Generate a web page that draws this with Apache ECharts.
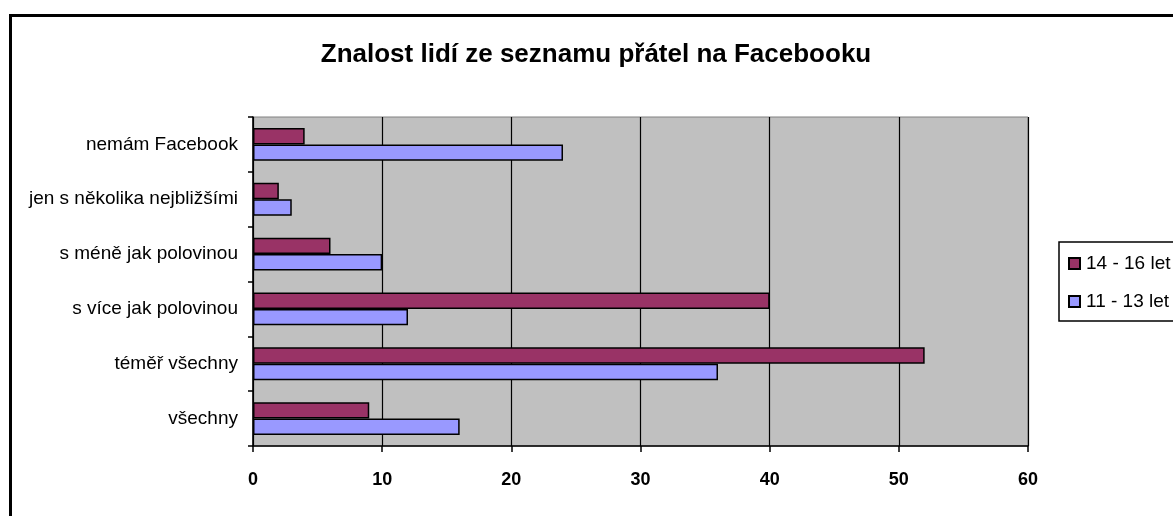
<!DOCTYPE html>
<html>
<head>
<meta charset="utf-8">
<script src="https://cdn.jsdelivr.net/npm/echarts@6/dist/echarts.min.js"></script>
<style>
  html, body { margin: 0; padding: 0; background: #fff; }
  #chart { width: 1173px; height: 516px; }
</style>
</head>
<body>
<div id="chart"></div>
<script>
const categories = [
  "všechny",
  "téměř všechny",
  "s více jak polovinou",
  "s méně jak polovinou",
  "jen s několika nejbližšími",
  "nemám Facebook",
];
const older = [9, 52, 40, 6, 2, 4];     // 14 - 16 let
const younger = [16, 36, 12, 10, 3, 24]; // 11 - 13 let
const xTicks = [0, 10, 20, 30, 40, 50, 60];

const font = "'Liberation Sans', Arial, sans-serif";
const chart = echarts.init(document.getElementById("chart"));

const option = {
  backgroundColor: "#fff",
  animation: false,
  title: {
    text: "Znalost lidí ze seznamu přátel na Facebooku",
    left: 596,
    top: 42,
    padding: 0,
    textAlign: "center",
    textStyle: { fontFamily: font, fontSize: 26, fontWeight: "bold", color: "#000" },
  },
  graphic: [
    {
      type: "rect",
      shape: { x: 10.5, y: 15.5, width: 1300, height: 700 },
      style: { fill: null, stroke: "#000", lineWidth: 3 },
      silent: true,
    },
  ],
  legend: {
    orient: "vertical",
    left: 1059,
    top: 242,
    padding: [12, 40, 10, 9],
    itemWidth: 11,
    itemHeight: 11,
    itemGap: 19,
    backgroundColor: "#fff",
    borderColor: "#000",
    borderWidth: 1.5,
    icon: "rect",
    data: ["14 - 16 let", "11 - 13 let"],
    textStyle: { fontFamily: font, fontSize: 19, color: "#000", lineHeight: 19, padding: [0, 0, 0, 1] },
  },
  grid: {
    left: 253,
    right: 145,
    top: 117,
    bottom: 70,
    show: true,
    backgroundColor: "#C0C0C0",
    borderColor: "#808080",
    borderWidth: 1,
  },
  xAxis: {
    type: "value",
    min: xTicks[0],
    max: xTicks[xTicks.length - 1],
    interval: 10,
    axisLine: { show: true, lineStyle: { color: "#000", width: 1.5 } },
    axisTick: { show: true, length: 6, lineStyle: { color: "#000", width: 1.5 } },
    splitLine: { show: true, lineStyle: { color: "#000", width: 1.2 } },
    axisLabel: { fontFamily: font, fontSize: 18, fontWeight: "bold", color: "#000", margin: 25 },
  },
  yAxis: {
    type: "category",
    data: categories,
    axisLine: { show: true, lineStyle: { color: "#000", width: 1.5 } },
    axisTick: { show: true, length: 5, lineStyle: { color: "#000", width: 1.5 } },
    axisLabel: { fontFamily: font, fontSize: 19, color: "#000", margin: 15 },
  },
  series: [
    {
      name: "14 - 16 let",
      type: "bar",
      data: older,
      barGap: "0%",
      barCategoryGap: "40%",
      itemStyle: { color: "#993366", borderColor: "#000", borderWidth: 1.5 },
    },
    {
      name: "11 - 13 let",
      type: "bar",
      data: younger,
      barGap: "0%",
      barCategoryGap: "40%",
      itemStyle: { color: "#9999FF", borderColor: "#000", borderWidth: 1.5 },
    },
  ],
};

chart.setOption(option);
</script>
</body>
</html>
